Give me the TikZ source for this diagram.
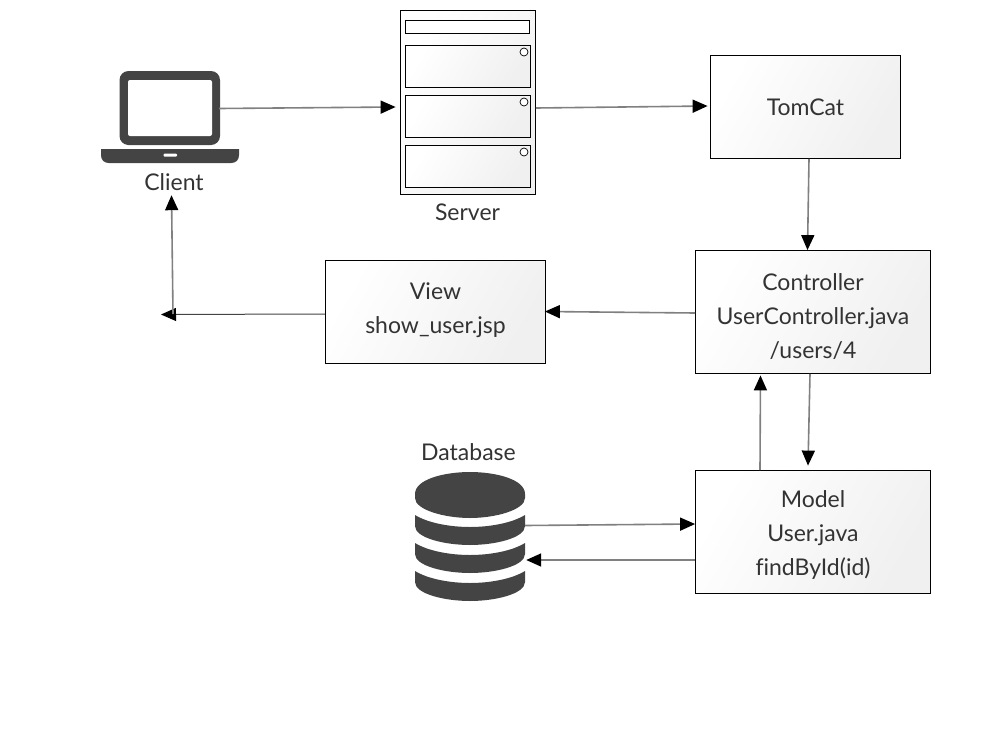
\documentclass[tikz,border=0pt]{standalone}
\usepackage{fontspec}
\setmainfont[Ligatures=NoCommon]{Lato}
\usetikzlibrary{arrows.meta,calc}
\definecolor{ink}{HTML}{333333}
\definecolor{dark}{HTML}{444444}
\definecolor{wire}{HTML}{808080}
\tikzset{
  x=1pt,y=-1pt,
  label text/.style={font=\fontsize{23}{34}\selectfont,text=ink,align=center,inner sep=0pt},
  softfill/.style={left color=white,right color=black!6,shading angle=60},
  procbox/.style={draw=black,line width=0.8pt,softfill,minimum width=#1,inner sep=0pt,align=center,font=\fontsize{23}{34}\selectfont,text=ink},
  ghost/.style={inner sep=0pt,minimum width=#1},
  wirearrow/.style={draw=wire,line width=1.6pt,-{Triangle[length=15pt,width=13pt,fill=black,color=black]}},
  thinarrow/.style={draw=dark,line width=1pt,-{Triangle[length=15pt,width=13pt,fill=black,color=black]}},
  slot/.style={draw=black,line width=0.9pt,softfill},
  lamp/.style={draw=black,line width=0.7pt,fill=white}
}
\begin{document}
\begin{tikzpicture}
\useasboundingbox (0,0) rectangle (997,745);
% Laptop
\fill[dark,rounded corners=9pt] (119.5,71) rectangle (220,145);
\fill[white,rounded corners=2pt] (128,80) rectangle (212,136);
\fill[dark] (101,149) -- (239,149) -- (239,155) .. controls (239,160) and (236,163) .. (231,163) -- (109,163) .. controls (104,163) and (101,160) .. (101,155) -- cycle;
\fill[white,rounded corners=1pt] (163.5,153.5) rectangle (177,156.5);
\node[ghost=138pt,minimum height=92pt] (client) at (170,117) {};
\node[label text] (clientlabel) at (174,182) {Client};
% Server
\node[draw=black,line width=0.8pt,softfill,minimum width=135pt,minimum height=184pt,inner sep=0pt] (server) at (468,102.5) {};
\draw[draw=black,line width=0.9pt,fill=white] (405.5,20.5) rectangle (529.5,33.5);
\draw[slot] (405.5,45.5) rectangle (530.5,87.5);
\draw[slot] (405.5,95.5) rectangle (530.5,137.5);
\draw[slot] (405.5,145.5) rectangle (530.5,187.5);
\draw[lamp] (524,52) circle (4pt);
\draw[lamp] (524,102) circle (4pt);
\draw[lamp] (524,152) circle (4pt);
\node[label text] (serverlabel) at (467.5,212) {Server};
% Boxes
\node[procbox=190pt,minimum height=103pt] (tomcat) at (805.5,107) {TomCat};
\node[procbox=235pt,minimum height=123pt] (controller) at (813,312) {\rule{0pt}{27pt}Controller\\UserController.java\\/users/4};
\node[procbox=220pt,minimum height=103pt] (view) at (435.5,312) {View\\show\_user.jsp\rule[-8pt]{0pt}{8pt}};
\node[procbox=235pt,minimum height=123pt] (model) at (813,532) {\rule{0pt}{23pt}Model\\User.java\\findById(id)};
% Database
\fill[dark] (415,494) .. controls (415,479) and (445,472) .. (470,472) .. controls (495,472) and (525,479) .. (525,494) -- (525,498) .. controls (525,510) and (495,518) .. (470,518) .. controls (445,518) and (415,510) .. (415,498) -- cycle;
\foreach \t in {0,28,56}{
  \fill[dark] (415,515+\t) .. controls (428,523+\t) and (450,527+\t) .. (470,527+\t) .. controls (490,527+\t) and (512,523+\t) .. (525,515+\t) -- (525,526+\t) .. controls (525,538+\t) and (495,545+\t) .. (470,545+\t) .. controls (445,545+\t) and (415,538+\t) .. (415,526+\t) -- cycle;
}
\node[ghost=110pt,minimum height=128pt] (db) at (470,536) {};
\node[label text] (dblabel) at (468.5,452) {Database};
% Free ends
\coordinate (turnend) at (161,314.5);
\coordinate (turnstart) at (173,314);
% Connectors
\draw[wirearrow] ([xshift=-20pt,yshift=8.5pt]client.east) -- ([xshift=-4.5pt,yshift=-4.5pt]server.west);
\draw[wirearrow] ([yshift=-5.5pt]server.east) -- ([xshift=-2.5pt,yshift=1pt]tomcat.west);
\draw[wirearrow] ([xshift=3.5pt]tomcat.south) -- ([xshift=-5.5pt]controller.north);
\draw[wirearrow] ([yshift=-1pt]controller.west) -- ([xshift=-1pt,yshift=0.5pt]view.east);
\draw[thinarrow] ([yshift=-2pt]view.west) -- (turnend);
\draw[wirearrow] (turnstart) -- ([xshift=1.5pt,yshift=-32pt]client.south);
\draw[wirearrow] ([xshift=-3pt]controller.south) -- ([xshift=-5pt,yshift=4.5pt]model.north);
\draw[wirearrow] ([xshift=-53pt]model.north) -- ([xshift=-52.5pt,yshift=-1.5pt]controller.south);
\draw[wirearrow] ([yshift=10.5pt]db.east) -- ([yshift=8pt]model.west);
\draw[wirearrow] ([yshift=-28pt]model.west) -- ([xshift=1pt,yshift=-24pt]db.east);
\end{tikzpicture}
\end{document}
